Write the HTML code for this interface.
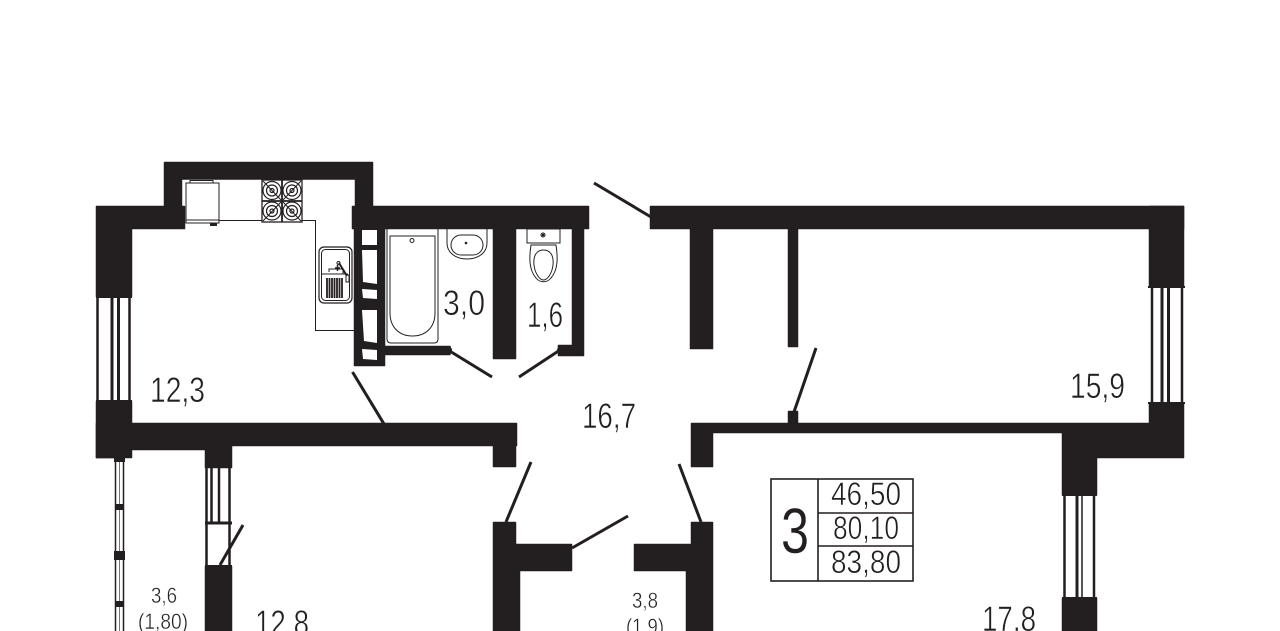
<!DOCTYPE html>
<html><head><meta charset="utf-8"><style>
html,body{margin:0;padding:0;background:#fff;width:1280px;height:631px;overflow:hidden}
svg{display:block}
text{font-family:"Liberation Sans",sans-serif;fill:#231f20;stroke:#fff;stroke-width:.55px}
</style></head><body>
<svg width="1280" height="631" viewBox="0 0 1280 631" xmlns="http://www.w3.org/2000/svg">
<rect width="1280" height="631" fill="#fff"/>
<!-- walls -->
<g fill="#231f20" stroke="#231f20" stroke-width="1.500" stroke-linejoin="round">
<path d="M164.500 162.500H372.500V206.500H588.500V228.500H583.500V355.500H558.500V345.500H572.500V228.500H515.500V358.500H493.500V228.500H384.500V346.500H450V354.500H384.500V365.500H354.500V228.500H352.500V206.500H355.500V179H181.500V206.500H184.500V228.500H131.500V296.500H96.500V206.500H164.500Z"/>
<rect x="96.500" y="401.500" width="35" height="56"/>
<path d="M96.500 423.500H516.500V445.500H515.500V466.500H493.500V445.500H231.500V467.500H205.500V449.500H122.500V457.500H96.500Z"/>
<rect x="650.500" y="206.500" width="533" height="22"/>
<rect x="690.500" y="229" width="22" height="119.500"/>
<rect x="788.500" y="229" width="9" height="117.500"/>
<rect x="788.500" y="411.500" width="9" height="13"/>
<rect x="1149.500" y="206.500" width="34" height="80"/>
<path d="M1149.500 403.500H1183.500V457.500H1096.500V494.500H1062.500V432.500H712.500V466.500H691.500V423.500H1062.500H1149.500Z"/>
<rect x="1062.500" y="598.500" width="34" height="33"/>
<rect x="205.500" y="566.500" width="26" height="65"/>
<path d="M493.500 522.500H515.500V544.500H571.500V570.500H519.500V632H493.500Z"/>
<path d="M691.500 522.500H712.500V632H686.500V570.500H634.500V544.500H691.500Z"/>
</g>
<!-- shaft holes -->
<g fill="#fff">
<rect x="362" y="230" width="15" height="15"/>
<path d="M362 250H377V284L363 282Z"/>
<path d="M362 289L377 290V299L363 298Z"/>
<path d="M362 310H377V343L364 341Z"/>
<path d="M362 349L377 350V360L363 359Z"/>
</g>
<!-- windows -->
<g fill="none" stroke="#231f20">
<g stroke-width="2.500"><path d="M97.500 297V401M129.500 297V401"/><path d="M112 297V401M118.500 297V401" stroke-width="3"/></g>
<g stroke-width="2.500"><path d="M1152 287V403M1182 287V403"/><path d="M1162 287V403M1168.500 287V403" stroke-width="3"/></g>
<g stroke-width="2.500"><path d="M1064.500 495V598M1094 495V598"/><path d="M1077 495V598" stroke-width="3"/><path d="M1082 495V598" stroke-width="1.500"/></g>
<g stroke-width="2.500"><path d="M206.500 468V566M229.500 468V566"/><path d="M211.500 468V523M219 468V523"/><path d="M205 523H232" stroke-width="3"/></g>
<path d="M115.500 458V631M123.500 458V631" stroke-width="1.500"/>
<path d="M119.500 458V631" stroke-width="1" stroke="#777"/>
<!-- window end caps -->
<path d="M96 297H132M96 401H132M1148 287H1185M1148 403H1185M1062 495H1097M1062 598H1097M205 467H232M205 566H232" stroke-width="2"/>
</g>
<g fill="#231f20">
<rect x="114" y="455" width="11" height="7"/>
<rect x="116" y="504" width="7" height="6"/>
<rect x="114" y="551" width="11" height="9"/>
<rect x="116" y="601" width="7" height="6"/>
</g>
<!-- doors -->
<g stroke="#231f20" stroke-width="3" fill="none" stroke-linecap="butt">
<path d="M594 183L651 217"/>
<path d="M448 350L492 377"/>
<path d="M560 350L519 377"/>
<path d="M352.500 372L384 424"/>
<path d="M816 348L794 412"/>
<path d="M531 462L506 522"/>
<path d="M679 464L701 522"/>
<path d="M628 516L572 548"/>
<path d="M243 525L220 565"/>
</g>
<g fill="#231f20"><circle cx="449" cy="350" r="3"/><circle cx="560" cy="350" r="3"/></g>
<!-- kitchen -->
<g fill="none" stroke="#231f20" stroke-width="1">
<path d="M219 220.500H262M302 220.500H315.500V330.500H354"/>
<rect x="186" y="183" width="33" height="40"/>
<path d="M186 220H219"/>
<rect x="190" y="180.500" width="23" height="2.500"/>
<rect x="262" y="180" width="40" height="42" stroke-width="1.300"/>
<path d="M282 180V222M262 201H302" stroke-width="1.800"/>
<g stroke-width="1.200"><circle cx="272" cy="190.500" r="9"/><circle cx="272" cy="190.500" r="5.500"/><circle cx="272" cy="190.500" r="2"/>
<circle cx="292" cy="190.500" r="9"/><circle cx="292" cy="190.500" r="5.500"/><circle cx="292" cy="190.500" r="2"/>
<circle cx="272" cy="211" r="9"/><circle cx="272" cy="211" r="5.500"/><circle cx="272" cy="211" r="2"/>
<circle cx="292" cy="211" r="9"/><circle cx="292" cy="211" r="5.500"/><circle cx="292" cy="211" r="2"/></g>
<path d="M263 181L281 200M301 181L283 200M263 221L281 202M301 221L283 202"/>
<rect x="319" y="247" width="33" height="56" rx="5" stroke-width="1.200"/>
<rect x="321.500" y="249.500" width="28" height="51" rx="4"/>
<path d="M321 274H348M329 272V269H343V274"/>
<path d="M335 268H340M337.500 265V271" stroke-width="1.500"/>
<path d="M339 263L347 276" stroke-width="2"/><circle cx="338.500" cy="263" r="1.500"/>
<rect x="346" y="275" width="3" height="7"/>
</g>
<g stroke="#231f20" stroke-width="1.800"><path d="M327 278V298M329.500 278V298M332 278V298M334.500 278V298M337 278V298M339.500 278V298M342 278V298"/></g>
<rect x="210" y="223" width="7" height="3" fill="#231f20"/>
<!-- bath + basin + wc -->
<g fill="none" stroke="#231f20" stroke-width="1">
<path d="M387 229V339Q387 343 391 343H434Q438 343 438 339V229"/>
<path d="M390 236H435V313C435 327 426 336 412.500 336C399 336 390 327 390 313Z"/>
<circle cx="412" cy="240.500" r="2"/>
<path d="M447 229V243C447 253 456 259 467 259C478 259 487 253 487 243V229"/>
<rect x="451" y="235" width="32" height="20" rx="10"/>
<rect x="527" y="229" width="33" height="14"/>
<circle cx="543" cy="235" r="2"/>
<path d="M531 245H556C558 258 558 270 551 278C547 283 540 283 536 278C529 270 529 258 531 245Z"/>
<path d="M543.500 250C550 250 554 255 553 265C552 274 547 280 543.500 280C540 280 535 274 534 265C533 255 537 250 543.500 250Z"/>
</g>
<circle cx="543" cy="235" r="1.300" fill="#231f20"/><circle cx="466" cy="243" r="1.300" fill="#231f20"/>
<!-- info table -->
<g fill="none" stroke="#231f20" stroke-width="1.600">
<rect x="771" y="479" width="142" height="102"/>
<path d="M818 479V581M818 513H913M818 546H913"/>
</g>
<!-- labels -->
<g>
<text x="150" y="402" font-size="35" textLength="55" lengthAdjust="spacingAndGlyphs">12,3</text>
<text x="1070" y="398" font-size="35" textLength="55" lengthAdjust="spacingAndGlyphs">15,9</text>
<text x="443" y="315" font-size="35" textLength="42" lengthAdjust="spacingAndGlyphs">3,0</text>
<text x="527" y="327" font-size="35" textLength="36" lengthAdjust="spacingAndGlyphs">1,6</text>
<text x="582" y="428" font-size="35" textLength="54" lengthAdjust="spacingAndGlyphs">16,7</text>
<text x="982" y="631" font-size="35" textLength="54" lengthAdjust="spacingAndGlyphs">17,8</text>
<text x="255" y="635" font-size="35" textLength="54" lengthAdjust="spacingAndGlyphs">12,8</text>
<text x="151" y="603" font-size="22" textLength="26" lengthAdjust="spacingAndGlyphs" style="stroke-width:.4px">3,6</text>
<text x="138" y="629" font-size="22" textLength="50" lengthAdjust="spacingAndGlyphs" style="stroke-width:.4px">(1,80)</text>
<text x="632" y="608" font-size="22" textLength="26" lengthAdjust="spacingAndGlyphs" style="stroke-width:.4px">3,8</text>
<text x="626" y="634" font-size="22" textLength="38" lengthAdjust="spacingAndGlyphs" style="stroke-width:.4px">(1,9)</text>
<text x="831" y="505" font-size="32" textLength="70" lengthAdjust="spacingAndGlyphs">46,50</text>
<text x="833" y="539" font-size="32" textLength="66" lengthAdjust="spacingAndGlyphs">80,10</text>
<text x="831" y="573" font-size="32" textLength="70" lengthAdjust="spacingAndGlyphs">83,80</text>
<text x="781" y="553" font-size="64" textLength="28" lengthAdjust="spacingAndGlyphs" style="stroke-width:.2px">3</text>
</g>
</svg>
</body></html>
